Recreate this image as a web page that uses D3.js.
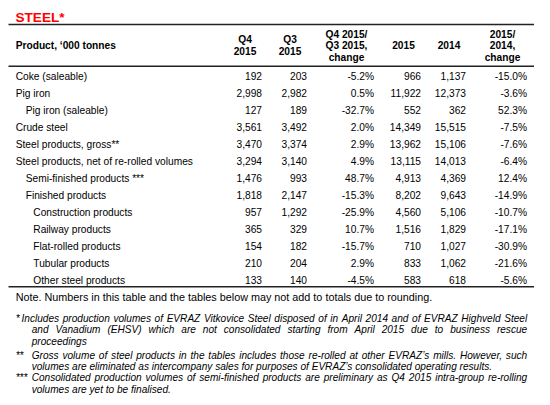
<!DOCTYPE html>
<html>
<head>
<meta charset="utf-8">
<script src="https://cdn.jsdelivr.net/npm/d3@7"></script>
<style>
  html, body { margin: 0; padding: 0; background: #fff; }
  svg { display: block; font-family: "Liberation Sans", Arial, sans-serif; }
</style>
</head>
<body>
<svg id="chart" width="550" height="405"></svg>
<script>
// ---- data ----
const title = "STEEL*";
const products = [
  "Coke (saleable)", "Pig iron", "Pig iron (saleable)", "Crude steel",
  "Steel products, gross**", "Steel products, net of re-rolled volumes",
  "Semi-finished products ***", "Finished products", "Construction products",
  "Railway products", "Flat-rolled products", "Tubular products", "Other steel products"
];
const indentLevel = [0, 0, 1, 0, 0, 0, 1, 1, 2, 2, 2, 2, 2];
const q4_2015 = ["192", "2,998", "127", "3,561", "3,470", "3,294", "1,476", "1,818", "957", "365", "154", "210", "133"];
const q3_2015 = ["203", "2,982", "189", "3,492", "3,374", "3,140", "993", "2,147", "1,292", "329", "182", "204", "140"];
const qoqChange = ["-5.2%", "0.5%", "-32.7%", "2.0%", "2.9%", "4.9%", "48.7%", "-15.3%", "-25.9%", "10.7%", "-15.7%", "2.9%", "-4.5%"];
const y2015 = ["966", "11,922", "552", "14,349", "13,962", "13,115", "4,913", "8,202", "4,560", "1,516", "710", "833", "583"];
const y2014 = ["1,137", "12,373", "362", "15,515", "15,106", "14,013", "4,369", "9,643", "5,106", "1,829", "1,027", "1,062", "618"];
const yoyChange = ["-15.0%", "-3.6%", "52.3%", "-7.5%", "-7.6%", "-6.4%", "12.4%", "-14.9%", "-10.7%", "-17.1%", "-30.9%", "-21.6%", "-5.6%"];
const headerProduct = "Product, \u2018000 tonnes";
const columnHeaders = [
  ["Q4", "2015"], ["Q3", "2015"], ["Q4 2015/", "Q3 2015,", "change"],
  ["2015"], ["2014"], ["2015/", "2014,", "change"]
];
const note = "Note. Numbers in this table and the tables below may not add to totals due to rounding.";
const footnotes = [
  { marker: "*", lines: [
    "Includes production volumes of EVRAZ Vitkovice Steel disposed of in April 2014 and of EVRAZ Highveld Steel",
    "and Vanadium (EHSV) which are not consolidated starting from April 2015 due to business rescue",
    "proceedings"] },
  { marker: "**", lines: [
    "Gross volume of steel products in the tables includes those re-rolled at other EVRAZ\u2019s mills. However, such",
    "volumes are eliminated as intercompany sales for purposes of EVRAZ\u2019s consolidated operating results."] },
  { marker: "***", lines: [
    "Consolidated production volumes of semi-finished products are preliminary as Q4 2015 intra-group re-rolling",
    "volumes are yet to be finalised."] }
];

// ---- layout ----
const svg = d3.select("#chart");
const ruleX0 = 8.5, ruleX1 = 534;
const columns = [q4_2015, q3_2015, qoqChange, y2015, y2014, yoyChange];
const colRight = [262, 307, 374, 421, 466, 527];
const colCenter = [245, 290, 346.5, 403.5, 449, 502.5];
const indentX = d3.scaleOrdinal().domain([0, 1, 2]).range([15.7, 25.7, 33.3]);
const y = d3.scalePoint().domain(products).range([76.7, 280.3]);
const fs = 10.2;

// title
svg.append("text").attr("x", 15.5).attr("y", 21.6)
  .attr("font-size", 13.6).attr("font-weight", "bold").attr("fill", "#ff0000")
  .text(title);

// rules
[24.5, 66.3, 286.8].forEach(yy => {
  svg.append("line").attr("x1", ruleX0).attr("x2", ruleX1).attr("y1", yy).attr("y2", yy)
    .attr("stroke", "#222").attr("stroke-width", 1.5);
});

// header
const hdr = svg.append("g").attr("font-size", fs).attr("font-weight", "bold").attr("fill", "#000");
hdr.append("text").attr("x", 15.7).attr("y", 45.5).attr("dy", "0.35em").text(headerProduct);
columnHeaders.forEach((lines, i) => {
  const lh = 11.6;
  const top = 45.6 - (lines.length - 1) * lh / 2;
  lines.forEach((t, j) => {
    hdr.append("text").attr("x", colCenter[i]).attr("y", top + j * lh)
      .attr("dy", "0.35em").attr("text-anchor", "middle").text(t);
  });
});

// body
const body = svg.append("g").attr("font-size", fs).attr("fill", "#000");
body.selectAll("text.prod").data(products).join("text").attr("class", "prod")
  .attr("x", (d, i) => indentX(indentLevel[i])).attr("y", d => y(d)).attr("dy", "0.35em")
  .text(d => d);
columns.forEach((col, ci) => {
  body.selectAll("text.c" + ci).data(col).join("text").attr("class", "c" + ci)
    .attr("x", colRight[ci]).attr("y", (d, i) => y(products[i])).attr("dy", "0.35em")
    .attr("text-anchor", "end").text(d => d);
});

// note
svg.append("text").attr("x", 15.7).attr("y", 296.8).attr("dy", "0.35em")
  .attr("font-size", 10.8).attr("fill", "#000").text(note);

// footnotes (justified)
const fn = svg.append("g").attr("font-size", 10.1).attr("font-style", "italic").attr("fill", "#000");
const lineYs = [[318.4, 329.9, 341.6], [355.0, 366.4], [377.6, 389.2]];
const textLeft = [[21.5, 31.7, 31.7], [31.7, 31.7], [31.7, 31.7]];
const rightEdge = 527.2;
footnotes.forEach((f, fi) => {
  fn.append("text").attr("x", 15.7).attr("y", lineYs[fi][0]).attr("dy", "0.35em").text(f.marker);
  f.lines.forEach((line, li) => {
    const yy = lineYs[fi][li];
    const left = textLeft[fi][li];
    const isLast = li === f.lines.length - 1;
    if (isLast) {
      fn.append("text").attr("x", left).attr("y", yy).attr("dy", "0.35em").text(line);
      return;
    }
    const words = line.split(" ");
    const nodes = words.map(w => fn.append("text").attr("y", yy).attr("dy", "0.35em").text(w));
    const widths = nodes.map(n => n.node().getComputedTextLength());
    const total = d3.sum(widths);
    const gap = (rightEdge - left - total) / (words.length - 1);
    let x = left;
    nodes.forEach((n, k) => { n.attr("x", x); x += widths[k] + gap; });
  });
});
</script>
</body>
</html>
